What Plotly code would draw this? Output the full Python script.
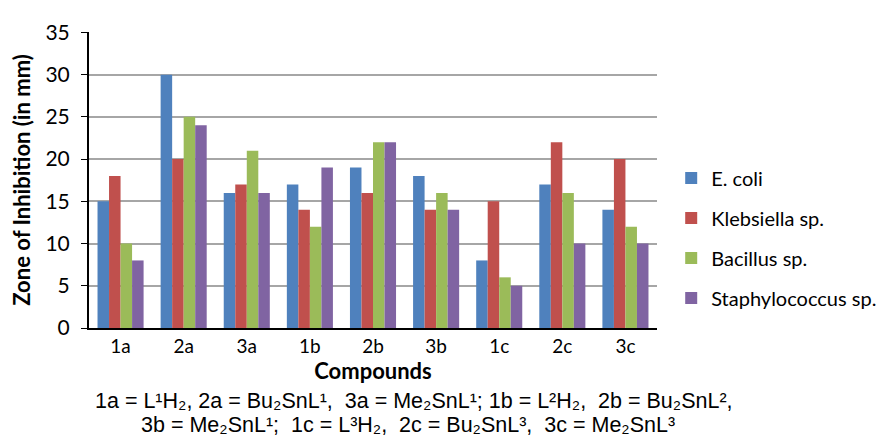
import plotly.graph_objects as go

categories = ["1a", "2a", "3a", "1b", "2b", "3b", "1c", "2c", "3c"]
series_names = ["E. coli", "Klebsiella sp.", "Bacillus sp.", "Staphylococcus sp."]
ecoli = [15, 30, 16, 17, 19, 18, 8, 17, 14]
klebsiella = [18, 20, 17, 14, 16, 14, 15, 22, 20]
bacillus = [10, 25, 21, 12, 22, 16, 6, 16, 12]
staph = [8, 24, 16, 19, 22, 14, 5, 10, 10]
y_ticks = [0, 5, 10, 15, 20, 25, 30, 35]
caption_lines = [
    "1a = L¹H₂, 2a = Bu₂SnL¹,  3a = Me₂SnL¹; 1b = L²H₂,  2b = Bu₂SnL²,",
    "3b = Me₂SnL¹;  1c = L³H₂,  2c = Bu₂SnL³,  3c = Me₂SnL³",
]

colors = ["#4F81BD", "#C0504D", "#9BBB59", "#8064A2"]
values = [ecoli, klebsiella, bacillus, staph]

fig = go.Figure()
for name, vals, col in zip(series_names, values, colors):
    fig.add_trace(go.Bar(x=categories, y=vals, name=name, marker=dict(color=col, line=dict(width=0)),
                         legendgroup=name))

font_main = "Lato, 'Open Sans', sans-serif"
fig.update_layout(
    width=885, height=442,
    margin=dict(l=81, r=210, t=11, b=122),
    paper_bgcolor="white", plot_bgcolor="white",
    barmode="group", bargap=0.27, bargroupgap=0,
    font=dict(family=font_main, size=19, color="black"),
    showlegend=True,
    legend=dict(x=1.025, y=0.304, xanchor="left", yanchor="middle",
                font=dict(size=20, family=font_main), tracegroupgap=11,
                itemwidth=30, bgcolor="rgba(0,0,0,0)"),
    xaxis=dict(showline=True, linecolor="black", linewidth=2, ticks="", tickfont=dict(size=19),
               title=dict(text="<b>Compounds</b>", font=dict(size=22), standoff=6)),
    yaxis=dict(range=[0, 35.05], tickvals=y_ticks, showline=True, linecolor="black", linewidth=2,
               ticks="outside", ticklen=6, tickcolor="black", tickfont=dict(size=21),
               ticklabeloverflow="allow", ticklabelstandoff=7,
               showgrid=True, gridcolor="#A6A6A6", gridwidth=1.5, zeroline=False,
               title=dict(text="<b>Zone of Inhibition (in mm)</b>", font=dict(size=22), standoff=10)),
)

cap_font = dict(family="'Liberation Sans', Arial, sans-serif", size=21.5, color="black")
cap_x = [0.572, 0.562]
cap_y = [-0.248, -0.328]
for line, cx, cy in zip(caption_lines, cap_x, cap_y):
    fig.add_annotation(xref="paper", yref="paper", x=cx, y=cy,
                       xanchor="center", yanchor="middle", showarrow=False, font=cap_font,
                       text=line)

fig.write_html("out.html")
